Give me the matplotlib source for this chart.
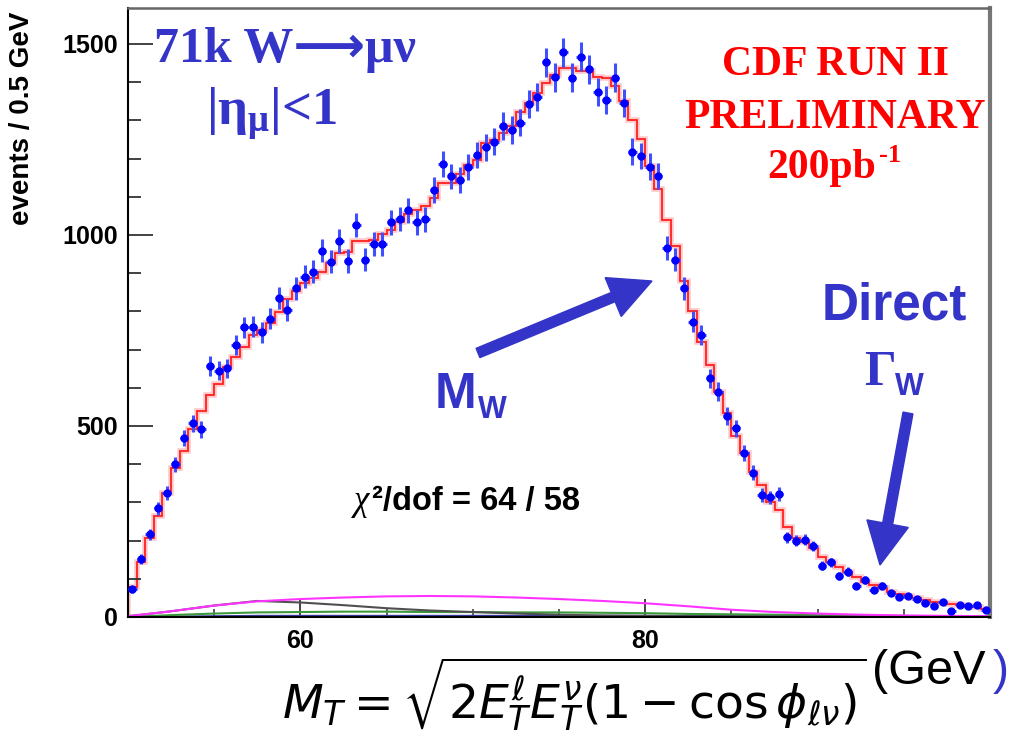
import numpy as np
import matplotlib
matplotlib.use('Agg')
from matplotlib import pyplot as plt
from matplotlib.patches import FancyArrow

# W -> mu nu transverse mass, 0.5 GeV bins between 50 and 100 GeV
mt_lo, mt_hi, nbins = 50.0, 100.0, 100

counts = [72, 152, 216, 284, 324, 400, 469, 507, 491, 657,
          645, 651, 712, 758, 760, 745, 781, 836, 804, 860,
          891, 904, 959, 930, 983, 932, 1026, 935, 976, 976,
          1033, 1042, 1065, 1033, 1041, 1118, 1186, 1153, 1144, 1177,
          1209, 1229, 1244, 1285, 1275, 1294, 1343, 1360, 1452, 1413,
          1478, 1412, 1467, 1434, 1375, 1353, 1412, 1346, 1218, 1207,
          1179, 1155, 965, 935, 860, 773, 738, 625, 590, 526,
          494, 430, 378, 319, 313, 322, 209, 200, 202, 186,
          134, 143, 107, 119, 82, 97, 71, 82, 62, 52,
          56, 47, 37, 30, 40, 17, 31, 29, 31, 18]

# best fit template (signal + backgrounds)
fit = [78, 145, 206, 264, 324, 391, 435, 493, 539, 581,
       609, 655, 681, 708, 738, 751, 769, 799, 832, 852,
       873, 886, 904, 926, 952, 955, 983, 985, 988, 1003,
       1013, 1035, 1055, 1065, 1075, 1097, 1136, 1136, 1160, 1183,
       1196, 1240, 1249, 1266, 1284, 1323, 1346, 1371, 1397, 1419,
       1436, 1436, 1428, 1428, 1414, 1410, 1390, 1350, 1300, 1250,
       1180, 1120, 1040, 970, 880, 800, 720, 660, 590, 535,
       475, 430, 380, 345, 300, 280, 236, 206, 197, 180,
       158, 145, 132, 119, 106, 92, 84, 75, 66, 60,
       55, 49, 45, 40, 36, 33, 31, 28, 25, 22]

# background shapes
bkg_mt = [50, 52.5, 55, 57.5, 60, 62.5, 65, 67.5, 70, 72.5, 75,
          77.5, 80, 82.5, 85, 87.5, 90, 92.5, 95, 97.5, 100]
bkg_magenta = [2, 15, 30, 41, 47, 51, 54, 55, 54, 51, 47,
               42, 36, 28, 19, 13, 9, 6, 4, 3, 2]
bkg_black = [2, 15, 30, 42, 38, 31, 23, 17, 13, 9, 6,
             4, 3, 2, 2, 1, 1, 1, 0, 0, 0]
bkg_green = [0, 5, 9, 12, 13, 14, 14, 13, 13, 12, 12,
             11, 10, 8, 7, 6, 5, 4, 3, 2, 2]
bkg_navy = [0, 1, 2, 3, 3, 3, 3, 3, 3, 3, 3,
            3, 3, 3, 2, 2, 2, 2, 1, 1, 1]

W, H = 1009, 736
blue_txt = '#3434c8'
serif = ['Liberation Serif', 'DejaVu Sans']
sans = ['Liberation Sans', 'DejaVu Sans']

plt.rcParams['mathtext.fontset'] = 'custom'
plt.rcParams['mathtext.rm'] = 'Liberation Serif:bold'
plt.rcParams['mathtext.it'] = 'Liberation Serif:bold'
plt.rcParams['mathtext.bf'] = 'Liberation Serif:bold'


def px(x, y):
    # image pixel (from top-left) -> figure fraction
    return x / W, 1 - y / H


fig = plt.figure(figsize=(W / 100, H / 100), dpi=100)
ax = fig.add_axes([128 / W, 1 - 617 / H, 862 / W, 609 / H])

edges = np.linspace(mt_lo, mt_hi, nbins + 1)
centers = 0.5 * (edges[:-1] + edges[1:])
counts = np.array(counts, dtype=float)

ax.plot(bkg_mt, bkg_navy, color='#3a3aa0', lw=1.5)
ax.plot(bkg_mt, bkg_green, color='#3c9a3c', lw=1.5)
ax.plot(bkg_mt, bkg_black, color='#505050', lw=1.5)
ax.plot(bkg_mt, bkg_magenta, color='#ff33ff', lw=1.5)

ax.stairs(fit, edges, color='#ff6060', lw=4, alpha=0.35)
ax.stairs(fit, edges, color='#ff2020', lw=1.3)

ax.errorbar(centers, counts, yerr=np.sqrt(counts), xerr=0.25, fmt='o',
            ms=5, color='#0000ff', ecolor='#4050ff', elinewidth=2.2,
            capsize=0, zorder=5)

ax.set_xlim(mt_lo, mt_hi)
ax.set_ylim(0, 1594)
ax.set_xticks([60, 80])
ax.set_xticks(np.arange(50, 101, 5), minor=True)
ax.set_yticks([0, 500, 1000, 1500])
ax.set_yticks(np.arange(0, 1600, 100), minor=True)
ax.tick_params(axis='y', which='major', direction='in', length=18, width=1.3,
               color='#333333', pad=7)
ax.tick_params(axis='y', which='minor', direction='in', length=9, width=1.3,
               color='#333333')
ax.tick_params(axis='x', which='major', direction='in', length=13, width=1.3,
               color='#333333', pad=9)
ax.tick_params(axis='x', which='minor', direction='in', length=6, width=1.1,
               color='#333333')
for lab in ax.get_xticklabels() + ax.get_yticklabels():
    lab.set_fontfamily(sans)
    lab.set_fontweight('bold')
    lab.set_fontsize(18)

ax.spines['left'].set_linewidth(1.5)
ax.spines['bottom'].set_linewidth(1.5)
ax.spines['top'].set_color('#666666')
ax.spines['top'].set_linewidth(1.8)
ax.spines['right'].set_color('#777777')
ax.spines['right'].set_linewidth(3)

fig.text(*px(22, 12), 'events / 0.5 GeV', rotation=90, ha='center', va='top',
         fontsize=20, fontweight='bold', family=sans)

# labels on the plot
fig.text(*px(285, 62), '71k W\u27f6\u03bc\u03bd', ha='center', va='baseline',
         fontsize=36, fontweight='bold', family=serif, color=blue_txt)
fig.text(*px(272, 125), r'$|\eta_{\mu}|$<1', ha='center', va='baseline',
         fontsize=38, fontweight='bold', family=serif, color=blue_txt,
         math_fontfamily='custom')

fig.text(*px(835, 75), 'CDF RUN II', ha='center', va='baseline', fontsize=30,
         fontweight='bold', family=serif, color='#ff0000')
fig.text(*px(835, 128), 'PRELIMINARY', ha='center', va='baseline',
         fontsize=30, fontweight='bold', family=serif, color='#ff0000')
fig.text(*px(767, 178), '200pb', ha='left', va='baseline', fontsize=30,
         fontweight='bold', family=serif, color='#ff0000')
fig.text(*px(879, 162), '-1', ha='left', va='baseline', fontsize=19,
         fontweight='bold', family=serif, color='#ff0000')

fig.text(*px(354, 510), '\u03c7', ha='left', va='baseline', fontsize=25,
         style='italic', family=serif)
fig.text(*px(372, 510), '\u00b2/dof = 64 / 58', ha='left', va='baseline',
         fontsize=23.5, fontweight='bold', family=sans)

fig.text(*px(435, 408), 'M', ha='left', va='baseline', fontsize=36,
         fontweight='bold', family=sans, color=blue_txt)
fig.text(*px(478, 418), 'W', ha='left', va='baseline', fontsize=22,
         fontweight='bold', family=sans, color=blue_txt)
fig.text(*px(822, 320), 'Direct', ha='left', va='baseline', fontsize=37,
         fontweight='bold', family=sans, color=blue_txt)
fig.text(*px(864, 385), '\u0393', ha='left', va='baseline', fontsize=36,
         fontweight='bold', family=serif, color=blue_txt)
fig.text(*px(895, 395), 'W', ha='left', va='baseline', fontsize=22,
         fontweight='bold', family=sans, color=blue_txt)

# arrows, drawn in display pixels
for (x0, y0), (x1, y1) in [((478, 353), (652, 281)), ((908, 413), (880, 565))]:
    arr = FancyArrow(x0, H - y0, x1 - x0, -(y1 - y0), width=10, head_width=42,
                     head_length=42, length_includes_head=True,
                     color=blue_txt, transform=None)
    fig.patches.append(arr)

# axis title
fig.text(*px(282, 718),
         r'$M_T=\sqrt{2E_T^{\ell}E_T^{\nu}(1-\cos\phi_{\ell\nu})}$',
         ha='left', va='baseline', fontsize=34, math_fontfamily='dejavusans')
fig.text(*px(872, 684), '(GeV', ha='left', va='baseline', fontsize=35,
         family=sans)
fig.text(*px(993, 684), ')', ha='left', va='baseline', fontsize=35,
         family=sans, color=blue_txt)

fig.savefig('out.png', dpi=100)
